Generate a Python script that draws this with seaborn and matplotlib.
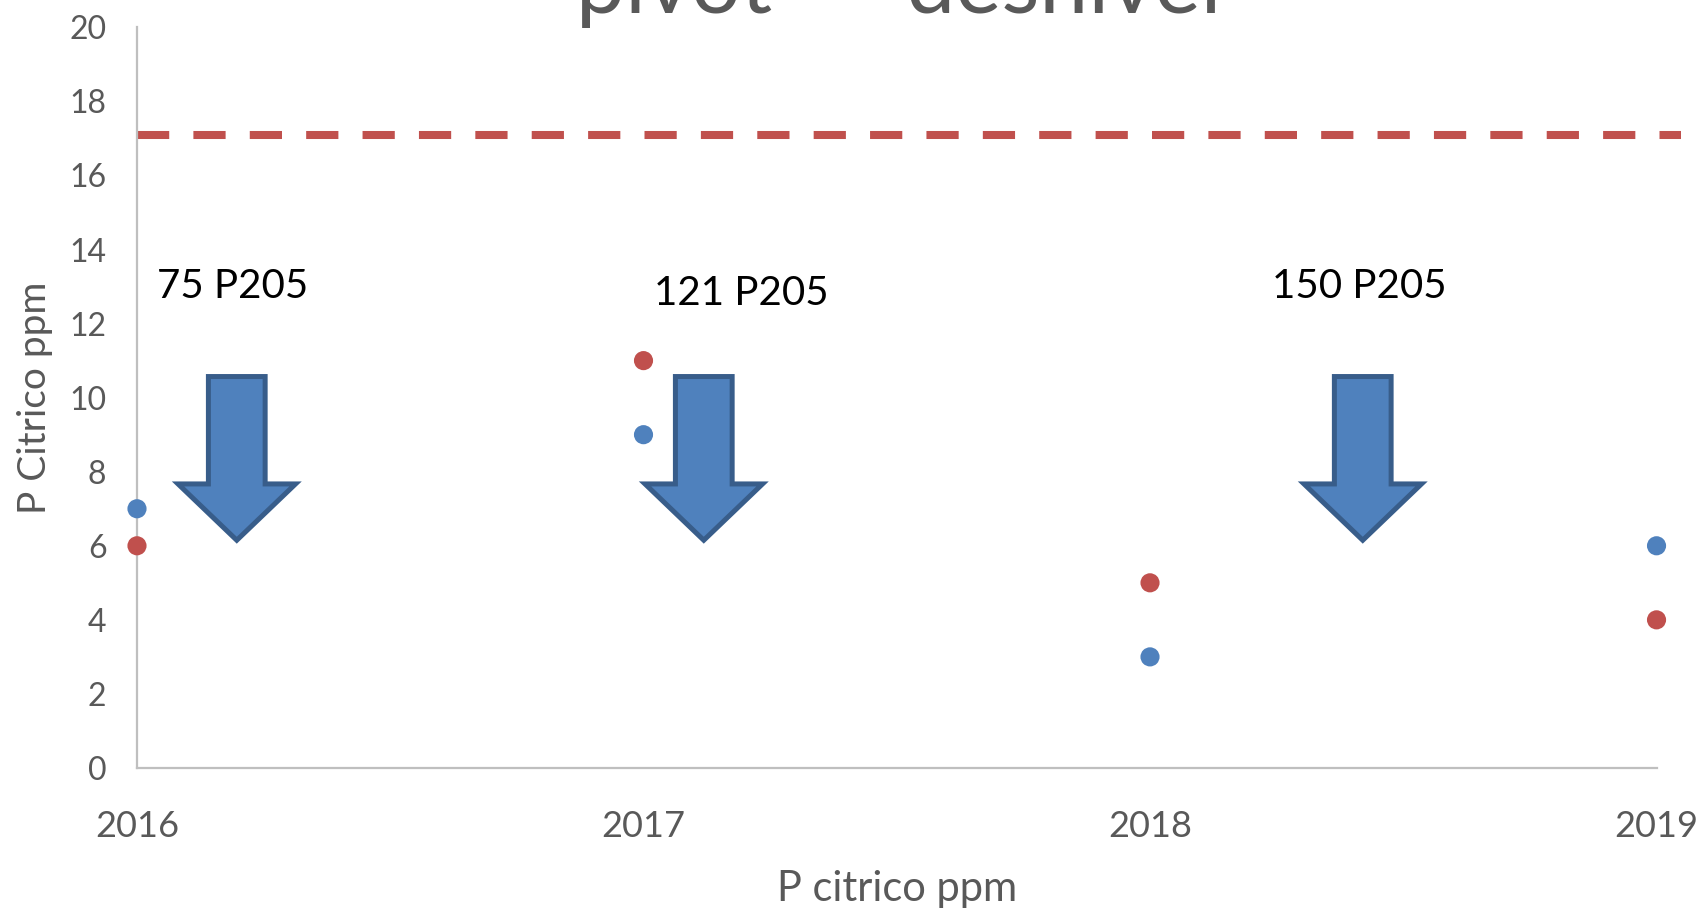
import matplotlib
matplotlib.use("Agg")
import matplotlib.pyplot as plt
from matplotlib.patches import FancyArrow
import pandas as pd
import seaborn as sns

# data
years = [2016, 2017, 2018, 2019]
serie_azul = [7, 9, 3, 6]
serie_roja = [6, 11, 5, 4]
umbral = 17.1

# dose annotations (label, text x, text y, arrow x)
dosis = ["75 P205", "121 P205", "150 P205"]
dosis_x = [2016.04, 2017.02, 2018.24]
dosis_y = [13.0, 12.8, 13.0]
flecha_x = [2016.197, 2017.119, 2018.42]

AZUL = "#4F81BD"
ROJO = "#C0504D"
GRIS = "#595959"

df = pd.DataFrame({
    "anio": years * 2,
    "ppm": serie_azul + serie_roja,
    "serie": ["azul"] * len(years) + ["roja"] * len(years),
})

sns.set_style("white")
plt.rcParams["font.family"] = ["Lato", "DejaVu Sans"]

fig = plt.figure(figsize=(17.06, 9.11), dpi=100)
ax = fig.add_axes([0.0803, 0.157, 0.8907, 0.813])

# threshold line runs a little past the last category, as in the original
ax.axhline(umbral, xmax=1.016, color=ROJO, lw=5.8, dashes=(4, 3),
           dash_capstyle="butt", clip_on=False, zorder=1)

sns.scatterplot(data=df, x="anio", y="ppm", hue="serie",
                palette={"azul": AZUL, "roja": ROJO}, s=190,
                edgecolor="none", legend=False, ax=ax, zorder=3, clip_on=False)

# block arrows pointing down
for fx in flecha_x:
    ax.add_patch(FancyArrow(fx, 10.57, 0, -4.42, width=0.112, head_width=0.232,
                            head_length=1.52, length_includes_head=True,
                            facecolor=AZUL, edgecolor="#385D8A", lw=3.6,
                            joinstyle="miter", zorder=2))

for txt, tx, ty in zip(dosis, dosis_x, dosis_y):
    ax.text(tx, ty, txt, fontsize=29, color="black", ha="left", va="center")

ax.set_xlim(2016, 2019)
ax.set_ylim(0, 20)
ax.set_xticks(years)
ax.set_xticklabels([str(y) for y in years])
ax.set_yticks(range(0, 21, 2))
ax.tick_params(axis="x", length=0, pad=30, labelsize=26, labelcolor=GRIS)
ax.tick_params(axis="y", length=0, pad=22, labelsize=23, labelcolor=GRIS)

for side in ["top", "right"]:
    ax.spines[side].set_visible(False)
for side in ["left", "bottom"]:
    ax.spines[side].set_color("#BFBFBF")
    ax.spines[side].set_linewidth(1.6)

ax.set_xlabel("P citrico ppm", fontsize=30, color=GRIS, labelpad=20)
ax.set_ylabel("P Citrico ppm", fontsize=28, color=GRIS, labelpad=12)

fig.text(0.527, 0.986, "pivot      desnivel", fontsize=63, color=GRIS,
         ha="center", va="baseline")

fig.savefig("out.png", dpi=100)
